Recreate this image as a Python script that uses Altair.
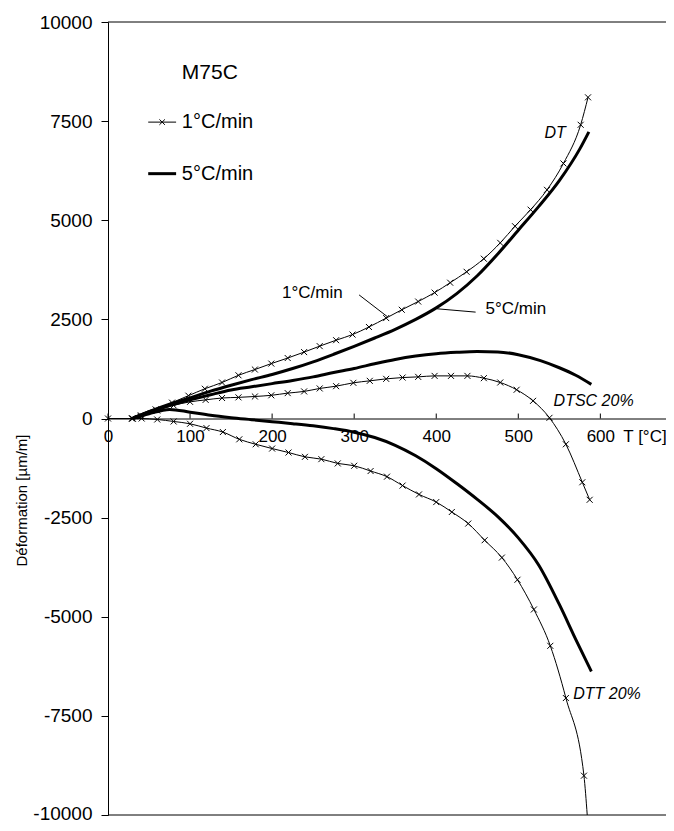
import altair as alt
import pandas as pd

# ---- data ----
# DT, 1 °C/min (thin, markers)
DT1_T = [30, 40, 58, 78, 98, 118, 139, 159, 179, 199, 219, 239, 258, 278, 298, 318, 339, 358, 378,
         398, 417, 437, 458, 478, 496, 515, 535, 555, 576, 585]
DT1_D = [0, 80, 230, 400, 575, 750, 908, 1090, 1235, 1385, 1525, 1675, 1825, 1975, 2117, 2308, 2533,
         2742, 2950, 3175, 3425, 3700, 4030, 4430, 4850, 5267, 5767, 6433, 7408, 8100]
# DT, 5 °C/min (thick)
DT5_T = [30, 50, 75, 100, 125, 150, 175, 200, 225, 250, 275, 300, 325, 350, 375, 400, 425, 450, 475,
         500, 525, 550, 575, 586]
DT5_D = [0, 170, 360, 520, 690, 840, 980, 1110, 1260, 1430, 1620, 1820, 2030, 2250, 2500, 2790, 3150,
         3600, 4150, 4750, 5350, 6000, 6800, 7230]
# DTSC 20 %, 1 °C/min (thin, markers)
DTSC1_T = [30, 40, 60, 80, 100, 119, 139, 159, 179, 199, 219, 239, 258, 278, 299, 319, 339, 359, 378,
           398, 418, 438, 458, 478, 498, 518, 538, 558, 578, 587]
DTSC1_D = [0, 60, 200, 330, 420, 470, 517, 533, 555, 585, 640, 683, 758, 815, 900, 950, 1000, 1033,
           1050, 1075, 1075, 1075, 1017, 908, 725, 445, 17, -650, -1608, -2050]
# DTSC 20 %, 5 °C/min (thick)
DTSC5_T = [30, 50, 75, 100, 125, 150, 175, 200, 225, 250, 275, 300, 325, 350, 375, 400, 425, 450, 475,
           500, 527, 550, 570, 589]
DTSC5_D = [0, 170, 330, 470, 600, 720, 800, 880, 960, 1050, 1160, 1260, 1380, 1490, 1575, 1635, 1670,
           1690, 1680, 1610, 1460, 1280, 1090, 860]
# DTT 20 %, 1 °C/min (thin, markers)
DTT1_T = [0, 29, 41, 60, 80, 100, 120, 140, 160, 180, 200, 220, 240, 260, 280, 300, 320, 340, 359,
          379, 400, 419, 439, 459, 480, 499, 519, 539, 558, 580, 584]
DTT1_D = [0, 0, 0, -25, -75, -133, -242, -342, -525, -650, -758, -858, -967, -1025, -1133, -1192,
          -1325, -1467, -1692, -1915, -2108, -2358, -2650, -3070, -3508, -4067, -4817, -5733, -7050,
          -9008, -10000]
DTT1_MARK = [1] * 30 + [0]
# DTT 20 %, 5 °C/min (thick)
DTT5_T = [30, 50, 75, 100, 125, 150, 175, 200, 225, 250, 275, 300, 325, 350, 375, 400, 425, 450, 475,
          500, 525, 550, 570, 589]
DTT5_D = [0, 120, 230, 160, 80, 20, -30, -80, -130, -185, -255, -345, -480, -675, -940, -1265, -1640,
          -2040, -2475, -3010, -3700, -4690, -5570, -6380]

# axis ticks
X_TICKS = [0, 100, 200, 300, 400, 500, 600]
Y_TICKS = [-10000, -7500, -5000, -2500, 0, 2500, 5000, 7500, 10000]
FRAME_D = [10000, -10000]

# annotations
ANN_LABELS = ["DT", "DTSC 20%", "DTT 20%"]
ANN_T = [532, 543, 567]
ANN_D = [7200, 450, -6950]
RATE_LABELS = ["1°C/min", "5°C/min"]
RATE_T = [212, 460]
RATE_D = [3175, 2762]
LEAD_T1 = [306, 401]
LEAD_D1 = [3117, 2767]
LEAD_T2 = [340, 448]
LEAD_D2 = [2575, 2683]
XTITLE = ["T [°C]"]
XTITLE_T = [628]
XTITLE_D = [-475]

# hand-made legend
LEG_TITLE = ["M75C"]
LEG_TITLE_T = [90]
LEG_TITLE_D = [8725]
LEG_LABELS = ["1°C/min", "5°C/min"]
LEG_T1 = [49, 49]
LEG_T2 = [83, 83]
LEG_D = [7475, 6175]
LEG_W = [1, 3]
LEG_MARK_T = [66]
LEG_MARK_D = [7475]
LEG_TEXT_T = [90, 90]

FONT = "Liberation Sans"
XPATH = "M-1,-1L1,1M-1,1L1,-1"

# ---- tables ----
thin = pd.concat([
    pd.DataFrame({"T": DT1_T, "D": DT1_D, "s": "DT", "m": 1}),
    pd.DataFrame({"T": DTSC1_T, "D": DTSC1_D, "s": "DTSC", "m": 1}),
    pd.DataFrame({"T": DTT1_T, "D": DTT1_D, "s": "DTT", "m": DTT1_MARK}),
])
thick = pd.concat([
    pd.DataFrame({"T": DT5_T, "D": DT5_D, "s": "DT"}),
    pd.DataFrame({"T": DTSC5_T, "D": DTSC5_D, "s": "DTSC"}),
    pd.DataFrame({"T": DTT5_T, "D": DTT5_D, "s": "DTT"}),
])

xs = alt.Scale(domain=[0, 680], nice=False, zero=False)
ys = alt.Scale(domain=[-10000, 10000], nice=False, zero=False)

PLOT_H = 793

x_axis = alt.Axis(values=X_TICKS, offset=-PLOT_H / 2, tickSize=0, labelPadding=10, labelFont=FONT,
                  labelFontSize=17, labelColor="black", domainColor="black", domainWidth=1,
                  grid=False, title=None, labelFlush=False)
y_axis = alt.Axis(values=Y_TICKS, tickSize=7, tickColor="black", labelPadding=9, labelFont=FONT,
                  labelFontSize=19, labelColor="black", domainColor="black", grid=False,
                  labelExpr="'' + datum.value", title="Déformation [µm/m]", titleFont=FONT,
                  titleFontSize=15, titleFontWeight="normal", titleColor="black",
                  titleX=-87, titleY=478, titleAngle=270, titleAlign="center",
                  titleBaseline="middle", labelFlush=False,
                  labelOffset={"condition": {"test": "datum.value == -10000", "value": -2},
                               "value": 0})


def X(field="T"):
    return alt.X(f"{field}:Q", scale=xs, axis=x_axis)


def Y(field="D"):
    return alt.Y(f"{field}:Q", scale=ys, axis=y_axis)


frame = alt.Chart(pd.DataFrame({"D": FRAME_D})).mark_rule(color="black", strokeWidth=1).encode(
    y=Y("D"))

xt = alt.Chart(pd.DataFrame({"T": X_TICKS, "D0": 0, "D1": 125})).mark_rule(
    color="black", strokeWidth=1).encode(x=X("T"), y=Y("D0"), y2="D1:Q")

thin_lines = alt.Chart(thin).mark_line(color="black", strokeWidth=1, interpolate="monotone").encode(
    x=X(), y=Y(), detail="s:N")
thin_marks = alt.Chart(thin[thin["m"] == 1]).mark_point(
    shape=XPATH, filled=False, color="black", strokeWidth=1, size=36, opacity=1).encode(
    x=X(), y=Y())
thick_lines = alt.Chart(thick).mark_line(color="black", strokeWidth=3, interpolate="monotone").encode(
    x=X(), y=Y(), detail="s:N")

ann = alt.Chart(pd.DataFrame({"T": ANN_T, "D": ANN_D, "t": ANN_LABELS})).mark_text(
    font=FONT, fontSize=16, fontStyle="italic", align="left", baseline="middle", color="black"
).encode(x=X(), y=Y(), text="t:N")

rate = alt.Chart(pd.DataFrame({"T": RATE_T, "D": RATE_D, "t": RATE_LABELS})).mark_text(
    font=FONT, fontSize=17, align="left", baseline="middle", color="black"
).encode(x=X(), y=Y(), text="t:N")

lead = alt.Chart(pd.DataFrame({"T": LEAD_T1, "D": LEAD_D1, "T2": LEAD_T2, "D2": LEAD_D2})).mark_rule(
    color="black", strokeWidth=1).encode(x=X(), y=Y(), x2="T2:Q", y2="D2:Q")

xtitle = alt.Chart(pd.DataFrame({"T": XTITLE_T, "D": XTITLE_D, "t": XTITLE})).mark_text(
    font=FONT, fontSize=17, align="left", baseline="middle", color="black"
).encode(x=X(), y=Y(), text="t:N")

leg_title = alt.Chart(pd.DataFrame({"T": LEG_TITLE_T, "D": LEG_TITLE_D, "t": LEG_TITLE})).mark_text(
    font=FONT, fontSize=21, align="left", baseline="middle", color="black"
).encode(x=X(), y=Y(), text="t:N")

leg_lines = alt.Chart(pd.DataFrame({"T": LEG_T1, "T2": LEG_T2, "D": LEG_D, "w": LEG_W})).mark_rule(
    color="black").encode(x=X(), x2="T2:Q", y=Y(), strokeWidth=alt.StrokeWidth("w:Q", scale=None))

leg_mark = alt.Chart(pd.DataFrame({"T": LEG_MARK_T, "D": LEG_MARK_D})).mark_point(
    shape=XPATH, filled=False, color="black", strokeWidth=1, size=30, opacity=1).encode(
    x=X(), y=Y())

leg_text = alt.Chart(pd.DataFrame({"T": LEG_TEXT_T, "D": LEG_D, "t": LEG_LABELS})).mark_text(
    font=FONT, fontSize=20, align="left", baseline="middle", color="black"
).encode(x=X(), y=Y(), text="t:N")

chart = alt.layer(
    frame, xt, thin_lines, thick_lines, thin_marks, lead, ann, rate, xtitle,
    leg_title, leg_lines, leg_mark, leg_text
).properties(
    width=558, height=PLOT_H,
    autosize=alt.AutoSizeParams(type="none"),
    padding={"left": 100, "top": 14, "right": 0, "bottom": 8},
    background="white",
).configure_view(stroke=None)

chart.save("out.html", embed_options={"renderer": "svg", "actions": False})
